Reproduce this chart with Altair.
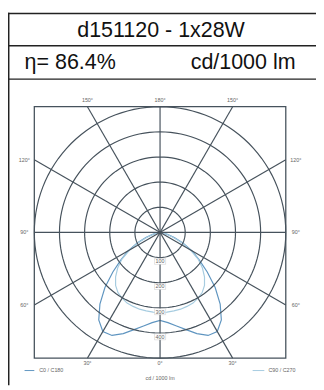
import altair as alt
import numpy as np
import pandas as pd

# ---------------- data ----------------
title_text = "d151120 - 1x28W"
eff_text = "η= 86.4%"
unit_text = "cd/1000 lm"
axis_title = "cd / 1000 lm"
series_names = ["C0 / C180", "C90 / C270"]
series_colors = ["#5f95c0", "#a6cce0"]

gamma = [0, 5, 10, 15, 20, 25, 30, 35, 40, 45, 50, 55, 60, 65, 70, 75, 80, 85, 90]
c0_c180 = [350, 360, 378, 400, 428, 452, 455, 425, 372, 310, 245, 190, 148, 100, 60, 30, 12, 4, 0]
c90_c270 = [318, 318, 317, 316, 313, 310, 302, 292, 275, 250, 220, 185, 140, 95, 55, 28, 12, 4, 0]

ring_values = [100, 200, 300, 400, 500]
ring_labels = [100, 200, 300, 400]
spoke_angles = [0, 30, 60, 90, 120, 150]
angle_labels = [0, 30, 60, 90, 120, 150, 180]

# ---------------- layout ----------------
W, H = 316, 382
K = 129 / 500.0          # px per cd
CXp, CYp = 156.0, 225.3  # centre of diagram in plot px
xdom = [-CXp / K, (W - CXp) / K]
ydom = [-(H - CYp) / K, CYp / K]
R = ring_values[-1]
GRID = "#46525c"
TXT = "#666666"
LINE = "#222222"

xs = alt.Scale(domain=xdom, nice=False, zero=False)
ys = alt.Scale(domain=ydom, nice=False, zero=False)
X = lambda f: alt.X(f, scale=xs, axis=None)
Y = lambda f: alt.Y(f, scale=ys, axis=None)

# rings
rows = []
for r in ring_values:
    for i, a in enumerate(np.arange(0, 361, 3)):
        t = np.radians(a)
        rows.append({"r": r, "k": i, "x": r * np.cos(t), "y": r * np.sin(t)})
rings = pd.DataFrame(rows)

# spokes
sp = []
for a in spoke_angles:
    t = np.radians(a)
    L = R / max(abs(np.sin(t)), abs(np.cos(t)))
    sp.append({"x": L * np.sin(t), "y": -L * np.cos(t), "x2": -L * np.sin(t), "y2": L * np.cos(t)})
spokes = pd.DataFrame(sp)

# angle labels
al = []
for a in angle_labels:
    sides = [1] if a in (0, 180) else [-1, 1]
    for s in sides:
        t = np.radians(a)
        L = R / max(abs(np.sin(t)), abs(np.cos(t)))
        x, y = s * L * np.sin(t), -L * np.cos(t)
        if abs(np.cos(t)) >= abs(np.sin(t)) - 1e-9:
            y += 26 if y > 0 else -20
        else:
            x += 40 * s
        al.append({"x": x, "y": y, "t": f"{a}°"})
alabels = pd.DataFrame(al)

# ring number labels
rl = pd.DataFrame({"v": ring_labels})
rl["y"] = -(rl["v"] + 15)
rl["x1"], rl["x2"] = -22, 22
rl["y1"], rl["y2"] = rl["y"] - 12, rl["y"] + 12
rl["x"] = 0
rl["t"] = rl["v"].astype(str)

# curves
cr = []
for name, vals in zip(series_names, [c0_c180, c90_c270]):
    k = 0
    for g, v in reversed(list(zip(gamma, vals))):
        t = np.radians(g)
        cr.append({"s": name, "k": k, "x": -v * np.sin(t), "y": -v * np.cos(t)}); k += 1
    for g, v in list(zip(gamma, vals))[1:]:
        t = np.radians(g)
        cr.append({"s": name, "k": k, "x": v * np.sin(t), "y": -v * np.cos(t)}); k += 1
curves = pd.DataFrame(cr)

frame = pd.DataFrame({"x": [-R], "x2": [R], "y": [-R], "y2": [R]})

layers = []
layers.append(alt.Chart(frame).mark_rect(filled=False, stroke=GRID, strokeWidth=1.3)
              .encode(x=X("x:Q"), x2="x2:Q", y=Y("y:Q"), y2="y2:Q"))
layers.append(alt.Chart(curves).mark_line(strokeWidth=1.2).encode(
    x=X("x:Q"), y=Y("y:Q"), order="k:Q",
    color=alt.Color("s:N", scale=alt.Scale(domain=series_names, range=series_colors), legend=None)))
layers.append(alt.Chart(rings).mark_line(color=GRID, strokeWidth=1.2)
              .encode(x=X("x:Q"), y=Y("y:Q"), detail="r:N", order="k:Q"))
layers.append(alt.Chart(spokes).mark_rule(color=GRID, strokeWidth=1.2)
              .encode(x=X("x:Q"), y=Y("y:Q"), x2="x2:Q", y2="y2:Q"))
layers.append(alt.Chart(rl).mark_rect(color="white", stroke="#bbbbbb", strokeWidth=0.4)
              .encode(x=X("x1:Q"), x2="x2:Q", y=Y("y1:Q"), y2="y2:Q"))
layers.append(alt.Chart(rl).mark_text(fontSize=5.5, color=TXT, font="Liberation Sans")
              .encode(x=X("x:Q"), y=Y("y:Q"), text="t:N"))
layers.append(alt.Chart(alabels).mark_text(fontSize=5.5, color=TXT, font="Liberation Sans")
              .encode(x=X("x:Q"), y=Y("y:Q"), text="t:N"))

# table frame
def hline(y):
    return alt.Chart().mark_rule(color=LINE, strokeWidth=1.5).encode(
        x=alt.value(0), x2=alt.value(W), y=alt.value(y))
layers += [hline(0.75), hline(33.7), hline(68)]
layers.append(alt.Chart().mark_rule(color=LINE, strokeWidth=1.5).encode(
    x=alt.value(0.75), y=alt.value(0), y2=alt.value(H)))

def txt(s, x, y, size, align="center", color="#111111"):
    return alt.Chart().mark_text(fontSize=size, align=align, baseline="alphabetic",
                                 color=color, font="Liberation Sans").encode(
        x=alt.value(x), y=alt.value(y), text=alt.value(s))
layers.append(txt(title_text, 157, 25, 22))
layers.append(txt(eff_text, 17, 58, 22, "left"))
layers.append(txt(unit_text, 295, 58, 22, "right"))

# legend + unit
layers.append(alt.Chart().mark_rule(color=series_colors[0], strokeWidth=1).encode(
    x=alt.value(17), x2=alt.value(27), y=alt.value(367)))
layers.append(txt(series_names[0], 32, 369, 5.5, "left", TXT))
layers.append(alt.Chart().mark_rule(color=series_colors[1], strokeWidth=1).encode(
    x=alt.value(251), x2=alt.value(263), y=alt.value(367)))
layers.append(txt(series_names[1], 295, 369, 5.5, "right", TXT))
layers.append(txt(axis_title, 156, 377, 5.5, "center", TXT))

chart = alt.layer(*layers).properties(
    width=W, height=H, autosize=alt.AutoSizeParams(type="none"),
    padding=0, background="white"
).configure_view(stroke=None)

chart.save("out.html", embed_options={"renderer": "svg", "actions": False})
